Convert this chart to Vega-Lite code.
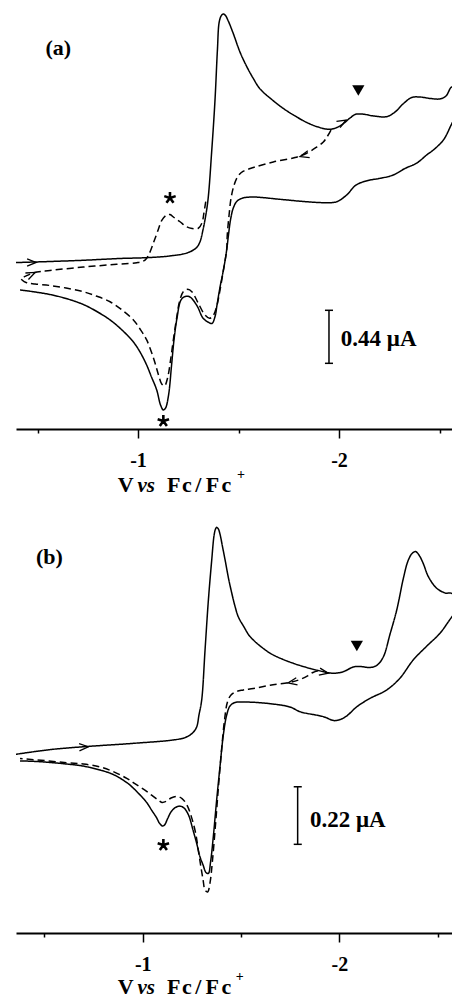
{
"$schema":"https://vega.github.io/schema/vega-lite/v6.json",
"background":"white",
"padding":{"left":16,"top":0,"right":0,"bottom":0},
"bounds":"flush",
"spacing":75,
"config":{"view":{"stroke":null}},
"datasets":{
"a_curves":[
{"s":"solid","k":1,"V":-0.373,"i":1.380},{"s":"solid","k":2,"V":-0.562,"i":1.390},{"s":"solid","k":3,"V":-0.726,"i":1.400},{"s":"solid","k":4,"V":-0.910,"i":1.415},{"s":"solid","k":5,"V":-1.045,"i":1.422},{"s":"solid","k":6,"V":-1.159,"i":1.436},{"s":"solid","k":7,"V":-1.244,"i":1.461},{"s":"solid","k":8,"V":-1.289,"i":1.502},{"s":"solid","k":9,"V":-1.308,"i":1.552},{"s":"solid","k":10,"V":-1.323,"i":1.651},{"s":"solid","k":11,"V":-1.333,"i":1.734},{"s":"solid","k":12,"V":-1.348,"i":1.900},{"s":"solid","k":13,"V":-1.367,"i":2.315},{"s":"solid","k":14,"V":-1.383,"i":2.730},{"s":"solid","k":15,"V":-1.395,"i":3.145},{"s":"solid","k":16,"V":-1.404,"i":3.378},{"s":"solid","k":17,"V":-1.415,"i":3.432},{"s":"solid","k":18,"V":-1.424,"i":3.444},{"s":"solid","k":19,"V":-1.435,"i":3.432},{"s":"solid","k":20,"V":-1.449,"i":3.386},{"s":"solid","k":21,"V":-1.473,"i":3.286},{"s":"solid","k":22,"V":-1.507,"i":3.129},{"s":"solid","k":23,"V":-1.541,"i":3.007},{"s":"solid","k":24,"V":-1.572,"i":2.913},{"s":"solid","k":25,"V":-1.607,"i":2.822},{"s":"solid","k":26,"V":-1.662,"i":2.739},{"s":"solid","k":27,"V":-1.723,"i":2.660},{"s":"solid","k":28,"V":-1.781,"i":2.598},{"s":"solid","k":29,"V":-1.839,"i":2.544},{"s":"solid","k":30,"V":-1.896,"i":2.506},{"s":"solid","k":31,"V":-1.955,"i":2.487},{"s":"solid","k":32,"V":-2.005,"i":2.515},{"s":"solid","k":33,"V":-2.055,"i":2.581},{"s":"solid","k":34,"V":-2.080,"i":2.610},{"s":"solid","k":35,"V":-2.114,"i":2.614},{"s":"solid","k":36,"V":-2.171,"i":2.598},{"s":"solid","k":37,"V":-2.237,"i":2.592},{"s":"solid","k":38,"V":-2.279,"i":2.631},{"s":"solid","k":39,"V":-2.318,"i":2.697},{"s":"solid","k":40,"V":-2.362,"i":2.751},{"s":"solid","k":41,"V":-2.403,"i":2.755},{"s":"solid","k":42,"V":-2.453,"i":2.743},{"s":"solid","k":43,"V":-2.502,"i":2.739},{"s":"solid","k":44,"V":-2.532,"i":2.763},{"s":"solid","k":45,"V":-2.562,"i":2.838},{"s":"solid","k":46,"V":-2.612,"i":2.700},{"s":"solid","k":47,"V":-2.562,"i":2.537},{"s":"solid","k":48,"V":-2.519,"i":2.398},{"s":"solid","k":49,"V":-2.469,"i":2.315},{"s":"solid","k":50,"V":-2.436,"i":2.274},{"s":"solid","k":51,"V":-2.387,"i":2.207},{"s":"solid","k":52,"V":-2.328,"i":2.162},{"s":"solid","k":53,"V":-2.270,"i":2.108},{"s":"solid","k":54,"V":-2.204,"i":2.080},{"s":"solid","k":55,"V":-2.144,"i":2.062},{"s":"solid","k":56,"V":-2.085,"i":2.025},{"s":"solid","k":57,"V":-2.038,"i":1.942},{"s":"solid","k":58,"V":-1.989,"i":1.886},{"s":"solid","k":59,"V":-1.939,"i":1.878},{"s":"solid","k":60,"V":-1.839,"i":1.886},{"s":"solid","k":61,"V":-1.706,"i":1.906},{"s":"solid","k":62,"V":-1.574,"i":1.925},{"s":"solid","k":63,"V":-1.522,"i":1.917},{"s":"solid","k":64,"V":-1.493,"i":1.892},{"s":"solid","k":65,"V":-1.474,"i":1.834},{"s":"solid","k":66,"V":-1.460,"i":1.734},{"s":"solid","k":67,"V":-1.450,"i":1.610},{"s":"solid","k":68,"V":-1.441,"i":1.485},{"s":"solid","k":69,"V":-1.425,"i":1.320},{"s":"solid","k":70,"V":-1.408,"i":1.178},{"s":"solid","k":71,"V":-1.393,"i":1.029},{"s":"solid","k":72,"V":-1.383,"i":0.932},{"s":"solid","k":73,"V":-1.368,"i":0.876},{"s":"solid","k":74,"V":-1.348,"i":0.888},{"s":"solid","k":75,"V":-1.323,"i":0.921},{"s":"solid","k":76,"V":-1.294,"i":1.021},{"s":"solid","k":77,"V":-1.259,"i":1.095},{"s":"solid","k":78,"V":-1.236,"i":1.100},{"s":"solid","k":79,"V":-1.214,"i":1.071},{"s":"solid","k":80,"V":-1.194,"i":0.921},{"s":"solid","k":81,"V":-1.179,"i":0.739},{"s":"solid","k":82,"V":-1.167,"i":0.531},{"s":"solid","k":83,"V":-1.152,"i":0.282},{"s":"solid","k":84,"V":-1.137,"i":0.174},{"s":"solid","k":85,"V":-1.126,"i":0.158},{"s":"solid","k":86,"V":-1.112,"i":0.199},{"s":"solid","k":87,"V":-1.093,"i":0.324},{"s":"solid","k":88,"V":-1.065,"i":0.440},{"s":"solid","k":89,"V":-1.043,"i":0.531},{"s":"solid","k":90,"V":-1.010,"i":0.639},{"s":"solid","k":91,"V":-0.977,"i":0.722},{"s":"solid","k":92,"V":-0.920,"i":0.822},{"s":"solid","k":93,"V":-0.861,"i":0.905},{"s":"solid","k":94,"V":-0.791,"i":0.979},{"s":"solid","k":95,"V":-0.728,"i":1.033},{"s":"solid","k":96,"V":-0.642,"i":1.083},{"s":"solid","k":97,"V":-0.562,"i":1.116},{"s":"solid","k":98,"V":-0.488,"i":1.137},{"s":"solid","k":99,"V":-0.413,"i":1.154},
{"s":"dashed","k":1,"V":-1.960,"i":2.481},{"s":"dashed","k":2,"V":-1.940,"i":2.423},{"s":"dashed","k":3,"V":-1.922,"i":2.382},{"s":"dashed","k":4,"V":-1.889,"i":2.340},{"s":"dashed","k":5,"V":-1.839,"i":2.288},{"s":"dashed","k":6,"V":-1.781,"i":2.253},{"s":"dashed","k":7,"V":-1.673,"i":2.216},{"s":"dashed","k":8,"V":-1.574,"i":2.170},{"s":"dashed","k":9,"V":-1.522,"i":2.137},{"s":"dashed","k":10,"V":-1.498,"i":2.100},{"s":"dashed","k":11,"V":-1.478,"i":2.025},{"s":"dashed","k":12,"V":-1.463,"i":1.917},{"s":"dashed","k":13,"V":-1.453,"i":1.776},{"s":"dashed","k":14,"V":-1.444,"i":1.610},{"s":"dashed","k":15,"V":-1.441,"i":1.485},{"s":"dashed","k":16,"V":-1.425,"i":1.320},{"s":"dashed","k":17,"V":-1.408,"i":1.154},{"s":"dashed","k":18,"V":-1.392,"i":1.021},{"s":"dashed","k":19,"V":-1.373,"i":0.938},{"s":"dashed","k":20,"V":-1.356,"i":0.919},{"s":"dashed","k":21,"V":-1.333,"i":0.946},{"s":"dashed","k":22,"V":-1.299,"i":1.046},{"s":"dashed","k":23,"V":-1.269,"i":1.137},{"s":"dashed","k":24,"V":-1.247,"i":1.159},{"s":"dashed","k":25,"V":-1.225,"i":1.139},{"s":"dashed","k":26,"V":-1.206,"i":1.054},{"s":"dashed","k":27,"V":-1.192,"i":0.921},{"s":"dashed","k":28,"V":-1.177,"i":0.755},{"s":"dashed","k":29,"V":-1.162,"i":0.573},{"s":"dashed","k":30,"V":-1.147,"i":0.423},{"s":"dashed","k":31,"V":-1.132,"i":0.357},{"s":"dashed","k":32,"V":-1.118,"i":0.373},{"s":"dashed","k":33,"V":-1.102,"i":0.448},{"s":"dashed","k":34,"V":-1.080,"i":0.573},{"s":"dashed","k":35,"V":-1.043,"i":0.739},{"s":"dashed","k":36,"V":-1.010,"i":0.830},{"s":"dashed","k":37,"V":-0.977,"i":0.905},{"s":"dashed","k":38,"V":-0.920,"i":0.988},{"s":"dashed","k":39,"V":-0.861,"i":1.056},{"s":"dashed","k":40,"V":-0.791,"i":1.104},{"s":"dashed","k":41,"V":-0.728,"i":1.139},{"s":"dashed","k":42,"V":-0.642,"i":1.170},{"s":"dashed","k":43,"V":-0.562,"i":1.191},{"s":"dashed","k":44,"V":-0.488,"i":1.203},{"s":"dashed","k":45,"V":-0.446,"i":1.214},{"s":"dashed","k":46,"V":-0.423,"i":1.237},{"s":"dashed","k":47,"V":-0.418,"i":1.249},{"s":"dashed","k":48,"V":-0.438,"i":1.266},{"s":"dashed","k":49,"V":-0.479,"i":1.295},{"s":"dashed","k":50,"V":-0.562,"i":1.315},{"s":"dashed","k":51,"V":-0.728,"i":1.344},{"s":"dashed","k":52,"V":-0.894,"i":1.367},{"s":"dashed","k":53,"V":-0.994,"i":1.380},{"s":"dashed","k":54,"V":-1.035,"i":1.402},{"s":"dashed","k":55,"V":-1.055,"i":1.452},{"s":"dashed","k":56,"V":-1.076,"i":1.541},{"s":"dashed","k":57,"V":-1.100,"i":1.651},{"s":"dashed","k":58,"V":-1.119,"i":1.734},{"s":"dashed","k":59,"V":-1.143,"i":1.776},{"s":"dashed","k":60,"V":-1.159,"i":1.780},{"s":"dashed","k":61,"V":-1.179,"i":1.755},{"s":"dashed","k":62,"V":-1.209,"i":1.720},{"s":"dashed","k":63,"V":-1.239,"i":1.680},{"s":"dashed","k":64,"V":-1.269,"i":1.664},{"s":"dashed","k":65,"V":-1.300,"i":1.666},{"s":"dashed","k":66,"V":-1.318,"i":1.710},{"s":"dashed","k":67,"V":-1.328,"i":1.793},{"s":"dashed","k":68,"V":-1.338,"i":1.900}
],
"b_curves":[
{"s":"solid","k":1,"V":-0.345,"i":0.682},{"s":"solid","k":2,"V":-0.528,"i":0.701},{"s":"solid","k":3,"V":-0.698,"i":0.712},{"s":"solid","k":4,"V":-0.952,"i":0.725},{"s":"solid","k":5,"V":-1.156,"i":0.738},{"s":"solid","k":6,"V":-1.215,"i":0.747},{"s":"solid","k":7,"V":-1.251,"i":0.763},{"s":"solid","k":8,"V":-1.274,"i":0.787},{"s":"solid","k":9,"V":-1.286,"i":0.833},{"s":"solid","k":10,"V":-1.300,"i":0.891},{"s":"solid","k":11,"V":-1.317,"i":1.082},{"s":"solid","k":12,"V":-1.334,"i":1.273},{"s":"solid","k":13,"V":-1.351,"i":1.426},{"s":"solid","k":14,"V":-1.363,"i":1.521},{"s":"solid","k":15,"V":-1.370,"i":1.544},{"s":"solid","k":16,"V":-1.376,"i":1.551},{"s":"solid","k":17,"V":-1.385,"i":1.544},{"s":"solid","k":18,"V":-1.393,"i":1.525},{"s":"solid","k":19,"V":-1.406,"i":1.476},{"s":"solid","k":20,"V":-1.419,"i":1.426},{"s":"solid","k":21,"V":-1.436,"i":1.357},{"s":"solid","k":22,"V":-1.453,"i":1.299},{"s":"solid","k":23,"V":-1.469,"i":1.250},{"s":"solid","k":24,"V":-1.486,"i":1.209},{"s":"solid","k":25,"V":-1.515,"i":1.170},{"s":"solid","k":26,"V":-1.546,"i":1.133},{"s":"solid","k":27,"V":-1.613,"i":1.088},{"s":"solid","k":28,"V":-1.664,"i":1.063},{"s":"solid","k":29,"V":-1.766,"i":1.031},{"s":"solid","k":30,"V":-1.885,"i":1.005},{"s":"solid","k":31,"V":-1.969,"i":0.993},{"s":"solid","k":32,"V":-2.020,"i":0.999},{"s":"solid","k":33,"V":-2.071,"i":1.017},{"s":"solid","k":34,"V":-2.105,"i":1.019},{"s":"solid","k":35,"V":-2.156,"i":1.015},{"s":"solid","k":36,"V":-2.192,"i":1.024},{"s":"solid","k":37,"V":-2.224,"i":1.056},{"s":"solid","k":38,"V":-2.258,"i":1.143},{"s":"solid","k":39,"V":-2.292,"i":1.235},{"s":"solid","k":40,"V":-2.326,"i":1.357},{"s":"solid","k":41,"V":-2.349,"i":1.422},{"s":"solid","k":42,"V":-2.370,"i":1.451},{"s":"solid","k":43,"V":-2.388,"i":1.458},{"s":"solid","k":44,"V":-2.405,"i":1.445},{"s":"solid","k":45,"V":-2.426,"i":1.414},{"s":"solid","k":46,"V":-2.453,"i":1.362},{"s":"solid","k":47,"V":-2.495,"i":1.318},{"s":"solid","k":48,"V":-2.538,"i":1.300},{"s":"solid","k":49,"V":-2.573,"i":1.298},{"s":"solid","k":50,"V":-2.624,"i":1.254},{"s":"solid","k":51,"V":-2.573,"i":1.209},{"s":"solid","k":52,"V":-2.512,"i":1.146},{"s":"solid","k":53,"V":-2.445,"i":1.097},{"s":"solid","k":54,"V":-2.376,"i":1.044},{"s":"solid","k":55,"V":-2.309,"i":0.975},{"s":"solid","k":56,"V":-2.241,"i":0.929},{"s":"solid","k":57,"V":-2.156,"i":0.897},{"s":"solid","k":58,"V":-2.089,"i":0.865},{"s":"solid","k":59,"V":-2.038,"i":0.830},{"s":"solid","k":60,"V":-2.004,"i":0.816},{"s":"solid","k":61,"V":-1.973,"i":0.812},{"s":"solid","k":62,"V":-1.919,"i":0.827},{"s":"solid","k":63,"V":-1.800,"i":0.846},{"s":"solid","k":64,"V":-1.749,"i":0.864},{"s":"solid","k":65,"V":-1.631,"i":0.878},{"s":"solid","k":66,"V":-1.520,"i":0.883},{"s":"solid","k":67,"V":-1.469,"i":0.881},{"s":"solid","k":68,"V":-1.444,"i":0.868},{"s":"solid","k":69,"V":-1.427,"i":0.833},{"s":"solid","k":70,"V":-1.410,"i":0.757},{"s":"solid","k":71,"V":-1.393,"i":0.636},{"s":"solid","k":72,"V":-1.376,"i":0.508},{"s":"solid","k":73,"V":-1.359,"i":0.368},{"s":"solid","k":74,"V":-1.345,"i":0.271},{"s":"solid","k":75,"V":-1.334,"i":0.228},{"s":"solid","k":76,"V":-1.322,"i":0.231},{"s":"solid","k":77,"V":-1.307,"i":0.260},{"s":"solid","k":78,"V":-1.291,"i":0.292},{"s":"solid","k":79,"V":-1.274,"i":0.344},{"s":"solid","k":80,"V":-1.257,"i":0.390},{"s":"solid","k":81,"V":-1.233,"i":0.451},{"s":"solid","k":82,"V":-1.210,"i":0.478},{"s":"solid","k":83,"V":-1.190,"i":0.485},{"s":"solid","k":84,"V":-1.167,"i":0.480},{"s":"solid","k":85,"V":-1.144,"i":0.463},{"s":"solid","k":86,"V":-1.126,"i":0.436},{"s":"solid","k":87,"V":-1.111,"i":0.413},{"s":"solid","k":88,"V":-1.101,"i":0.409},{"s":"solid","k":89,"V":-1.085,"i":0.420},{"s":"solid","k":90,"V":-1.071,"i":0.440},{"s":"solid","k":91,"V":-1.045,"i":0.470},{"s":"solid","k":92,"V":-1.020,"i":0.499},{"s":"solid","k":93,"V":-0.986,"i":0.528},{"s":"solid","k":94,"V":-0.952,"i":0.554},{"s":"solid","k":95,"V":-0.919,"i":0.575},{"s":"solid","k":96,"V":-0.850,"i":0.606},{"s":"solid","k":97,"V":-0.783,"i":0.623},{"s":"solid","k":98,"V":-0.698,"i":0.638},{"s":"solid","k":99,"V":-0.613,"i":0.646},{"s":"solid","k":100,"V":-0.528,"i":0.652},{"s":"solid","k":101,"V":-0.452,"i":0.656},{"s":"solid","k":102,"V":-0.376,"i":0.658},
{"s":"dashed","k":1,"V":-1.892,"i":1.002},{"s":"dashed","k":2,"V":-1.866,"i":0.996},{"s":"dashed","k":3,"V":-1.841,"i":0.984},{"s":"dashed","k":4,"V":-1.800,"i":0.969},{"s":"dashed","k":5,"V":-1.749,"i":0.958},{"s":"dashed","k":6,"V":-1.648,"i":0.947},{"s":"dashed","k":7,"V":-1.563,"i":0.935},{"s":"dashed","k":8,"V":-1.512,"i":0.929},{"s":"dashed","k":9,"V":-1.475,"i":0.923},{"s":"dashed","k":10,"V":-1.449,"i":0.910},{"s":"dashed","k":11,"V":-1.431,"i":0.883},{"s":"dashed","k":12,"V":-1.416,"i":0.814},{"s":"dashed","k":13,"V":-1.401,"i":0.700},{"s":"dashed","k":14,"V":-1.386,"i":0.566},{"s":"dashed","k":15,"V":-1.370,"i":0.413},{"s":"dashed","k":16,"V":-1.355,"i":0.279},{"s":"dashed","k":17,"V":-1.342,"i":0.191},{"s":"dashed","k":18,"V":-1.330,"i":0.157},{"s":"dashed","k":19,"V":-1.317,"i":0.164},{"s":"dashed","k":20,"V":-1.307,"i":0.203},{"s":"dashed","k":21,"V":-1.297,"i":0.248},{"s":"dashed","k":22,"V":-1.284,"i":0.310},{"s":"dashed","k":23,"V":-1.269,"i":0.382},{"s":"dashed","k":24,"V":-1.248,"i":0.443},{"s":"dashed","k":25,"V":-1.225,"i":0.489},{"s":"dashed","k":26,"V":-1.200,"i":0.514},{"s":"dashed","k":27,"V":-1.174,"i":0.522},{"s":"dashed","k":28,"V":-1.144,"i":0.516},{"s":"dashed","k":29,"V":-1.119,"i":0.503},{"s":"dashed","k":30,"V":-1.098,"i":0.499},{"s":"dashed","k":31,"V":-1.079,"i":0.508},{"s":"dashed","k":32,"V":-1.047,"i":0.526},{"s":"dashed","k":33,"V":-1.020,"i":0.541},{"s":"dashed","k":34,"V":-0.966,"i":0.568},{"s":"dashed","k":35,"V":-0.919,"i":0.591},{"s":"dashed","k":36,"V":-0.850,"i":0.617},{"s":"dashed","k":37,"V":-0.783,"i":0.635},{"s":"dashed","k":38,"V":-0.698,"i":0.646},{"s":"dashed","k":39,"V":-0.613,"i":0.651},{"s":"dashed","k":40,"V":-0.503,"i":0.659},{"s":"dashed","k":41,"V":-0.376,"i":0.667}
],
"a_arrows":[{"id":"a1","V":-0.493,"i":1.382},{"id":"a2","V":-0.488,"i":1.299},{"id":"a3","V":-1.806,"i":2.261},{"id":"a4","V":-2.035,"i":2.564}],
"b_arrows":[{"id":"b1","V":-0.723,"i":0.712},{"id":"b2","V":-1.739,"i":0.956},{"id":"b3","V":-1.944,"i":0.993}],
"a_stars":[{"V":-1.159,"i":1.917},{"V":-1.126,"i":0.066}],
"b_stars":[{"V":-1.105,"i":0.336}],
"a_tri":[{"V":-2.096,"i":2.809}],
"b_tri":[{"V":-2.089,"i":1.097}],
"a_bar":[{"V":-1.950,"i":0.545,"i2":0.985}],
"a_caps":[{"V":-1.930,"V2":-1.970,"i":0.545},{"V":-1.930,"V2":-1.970,"i":0.985}],
"b_bar":[{"V":-1.788,"i":0.339,"i2":0.559}],
"b_caps":[{"V":-1.768,"V2":-1.809,"i":0.339},{"V":-1.768,"V2":-1.809,"i":0.559}],
"a_title":[{"V":-0.939,"i":-0.520,"t":"V"},{"V":-1.178,"i":-0.520,"t":"F"},{"V":-1.243,"i":-0.520,"t":"c"},{"V":-1.300,"i":-0.520,"t":"/"},{"V":-1.370,"i":-0.520,"t":"F"},{"V":-1.440,"i":-0.520,"t":"c"}],
"b_title":[{"V":-0.914,"i":-0.233,"t":"V"},{"V":-1.158,"i":-0.233,"t":"F"},{"V":-1.224,"i":-0.233,"t":"c"},{"V":-1.283,"i":-0.233,"t":"/"},{"V":-1.354,"i":-0.233,"t":"F"},{"V":-1.425,"i":-0.233,"t":"c"}]
},
"vconcat":[
{
"width":436,"height":429,
"encoding":{
"x":{"field":"V","type":"quantitative","scale":{"domain":[-2.562,-0.393],"reverse":true,"nice":false,"zero":false},
"axis":{"title":null,"values":[-0.5,-1,-1.5,-2,-2.5],"labelExpr":"datum.value % 1 === 0 ? toString(datum.value) : ''","tickSize":{"condition":{"test":"datum.value % 1 === 0","value":9},"value":4},"tickColor":"black","tickWidth":1.5,"domainColor":"black","domainWidth":1.8,"labelColor":"black","labelFont":"Liberation Serif","labelFontWeight":"bold","labelFontSize":20,"labelBaseline":"alphabetic","labelPadding":28,"labelFlush":false,"labelOverlap":false,"grid":false}},
"y":{"field":"i","type":"quantitative","scale":{"domain":[0,3.56],"nice":false,"zero":false},"axis":null}
},
"layer":[
{"data":{"name":"a_curves"},"mark":{"type":"line","clip":true,"color":"black","strokeWidth":1.5,"interpolate":"catmull-rom"},
 "encoding":{"order":{"field":"k","type":"quantitative"},"strokeDash":{"field":"s","type":"nominal","scale":{"domain":["solid","dashed"],"range":[[1,0],[7,4]]},"legend":null}}},
{"data":{"name":"a_arrows"},"transform":[{"filter":"datum.id === 'a1'"}],"mark":{"type":"point","shape":"M-1,-0.4L0,0L-1,0.4","size":324,"filled":false,"stroke":"black","strokeWidth":1.3,"angle":0,"opacity":1}},
{"data":{"name":"a_arrows"},"transform":[{"filter":"datum.id === 'a2'"}],"mark":{"type":"point","shape":"M-1,-0.4L0,0L-1,0.4","size":324,"filled":false,"stroke":"black","strokeWidth":1.3,"angle":-25,"opacity":1}},
{"data":{"name":"a_arrows"},"transform":[{"filter":"datum.id === 'a3'"}],"mark":{"type":"point","shape":"M-1,-0.4L0,0L-1,0.4","size":324,"filled":false,"stroke":"black","strokeWidth":1.3,"angle":165,"opacity":1}},
{"data":{"name":"a_arrows"},"transform":[{"filter":"datum.id === 'a4'"}],"mark":{"type":"point","shape":"M-1,-0.4L0,0L-1,0.4","size":324,"filled":false,"stroke":"black","strokeWidth":1.3,"angle":-30,"opacity":1}},
{"data":{"name":"a_stars"},"mark":{"type":"point","shape":"M0,-1L0,0M0.95,-0.31L0,0M0.59,0.81L0,0M-0.59,0.81L0,0M-0.95,-0.31L0,0","size":144,"filled":false,"stroke":"black","strokeWidth":2.6,"opacity":1}},
{"data":{"name":"a_tri"},"mark":{"type":"point","shape":"triangle-down","size":150,"filled":true,"color":"black","opacity":1}},
{"data":{"name":"a_bar"},"mark":{"type":"rule","color":"black","strokeWidth":1.5},"encoding":{"y2":{"field":"i2"}}},
{"data":{"name":"a_caps"},"mark":{"type":"rule","color":"black","strokeWidth":1.5},"encoding":{"x2":{"field":"V2"}}},
{"data":{"values":[{"V":-0.603,"i":3.162,"t":"(a)"}]},"mark":{"type":"text","font":"Liberation Serif","fontWeight":"bold","fontSize":22,"align":"center","baseline":"middle","color":"black"},"encoding":{"text":{"field":"t"}}},
{"data":{"values":[{"V":-2.009,"i":0.749,"t":"0.44 μA"}]},"mark":{"type":"text","font":"Liberation Serif","fontWeight":"bold","fontSize":23,"align":"left","baseline":"middle","color":"black"},"encoding":{"text":{"field":"t"}}},
{"data":{"name":"a_title"},"mark":{"type":"text","font":"Liberation Serif","fontWeight":"bold","fontSize":22,"align":"center","baseline":"alphabetic","color":"black"},"encoding":{"text":{"field":"t"}}},
{"data":{"values":[{"V":-1.041,"i":-0.520,"t":"vs"}]},"mark":{"type":"text","font":"Liberation Serif","fontWeight":"bold","fontStyle":"italic","fontSize":21,"align":"center","baseline":"alphabetic","color":"black"},"encoding":{"text":{"field":"t"}}},
{"data":{"values":[{"V":-1.512,"i":-0.417,"t":"+"}]},"mark":{"type":"text","font":"Liberation Serif","fontWeight":"bold","fontSize":14,"align":"center","baseline":"alphabetic","color":"black"},"encoding":{"text":{"field":"t"}}}
]
},
{
"width":436,"height":429,
"encoding":{
"x":{"field":"V","type":"quantitative","scale":{"domain":[-2.573,-0.3555],"reverse":true,"nice":false,"zero":false},
"axis":{"title":null,"values":[-0.5,-1,-1.5,-2,-2.5],"labelExpr":"datum.value % 1 === 0 ? toString(datum.value) : ''","tickSize":{"condition":{"test":"datum.value % 1 === 0","value":9},"value":4},"tickColor":"black","tickWidth":1.5,"domainColor":"black","domainWidth":1.8,"labelColor":"black","labelFont":"Liberation Serif","labelFontWeight":"bold","labelFontSize":20,"labelBaseline":"alphabetic","labelPadding":28,"labelFlush":false,"labelOverlap":false,"grid":false}},
"y":{"field":"i","type":"quantitative","scale":{"domain":[0,1.64],"nice":false,"zero":false},"axis":null}
},
"layer":[
{"data":{"name":"b_curves"},"mark":{"type":"line","clip":true,"color":"black","strokeWidth":1.5,"interpolate":"catmull-rom"},
 "encoding":{"order":{"field":"k","type":"quantitative"},"strokeDash":{"field":"s","type":"nominal","scale":{"domain":["solid","dashed"],"range":[[1,0],[7,4]]},"legend":null}}},
{"data":{"name":"b_arrows"},"transform":[{"filter":"datum.id === 'b1'"}],"mark":{"type":"point","shape":"M-1,-0.4L0,0L-1,0.4","size":324,"filled":false,"stroke":"black","strokeWidth":1.3,"angle":-3,"opacity":1}},
{"data":{"name":"b_arrows"},"transform":[{"filter":"datum.id === 'b2'"}],"mark":{"type":"point","shape":"M-1,-0.4L0,0L-1,0.4","size":324,"filled":false,"stroke":"black","strokeWidth":1.3,"angle":170,"opacity":1}},
{"data":{"name":"b_arrows"},"transform":[{"filter":"datum.id === 'b3'"}],"mark":{"type":"point","shape":"M-1,-0.4L0,0L-1,0.4","size":324,"filled":false,"stroke":"black","strokeWidth":1.3,"angle":10,"opacity":1}},
{"data":{"name":"b_stars"},"mark":{"type":"point","shape":"M0,-1L0,0M0.95,-0.31L0,0M0.59,0.81L0,0M-0.59,0.81L0,0M-0.95,-0.31L0,0","size":144,"filled":false,"stroke":"black","strokeWidth":2.6,"opacity":1}},
{"data":{"name":"b_tri"},"mark":{"type":"point","shape":"triangle-down","size":150,"filled":true,"color":"black","opacity":1}},
{"data":{"name":"b_bar"},"mark":{"type":"rule","color":"black","strokeWidth":1.5},"encoding":{"y2":{"field":"i2"}}},
{"data":{"name":"b_caps"},"mark":{"type":"rule","color":"black","strokeWidth":1.5},"encoding":{"x2":{"field":"V2"}}},
{"data":{"values":[{"V":-0.525,"i":1.438,"t":"(b)"}]},"mark":{"type":"text","font":"Liberation Serif","fontWeight":"bold","fontSize":22,"align":"center","baseline":"middle","color":"black"},"encoding":{"text":{"field":"t"}}},
{"data":{"values":[{"V":-1.851,"i":0.432,"t":"0.22 μA"}]},"mark":{"type":"text","font":"Liberation Serif","fontWeight":"bold","fontSize":23,"align":"left","baseline":"middle","color":"black"},"encoding":{"text":{"field":"t"}}},
{"data":{"name":"b_title"},"mark":{"type":"text","font":"Liberation Serif","fontWeight":"bold","fontSize":22,"align":"center","baseline":"alphabetic","color":"black"},"encoding":{"text":{"field":"t"}}},
{"data":{"values":[{"V":-1.018,"i":-0.233,"t":"vs"}]},"mark":{"type":"text","font":"Liberation Serif","fontWeight":"bold","fontStyle":"italic","fontSize":21,"align":"center","baseline":"alphabetic","color":"black"},"encoding":{"text":{"field":"t"}}},
{"data":{"values":[{"V":-1.493,"i":-0.185,"t":"+"}]},"mark":{"type":"text","font":"Liberation Serif","fontWeight":"bold","fontSize":14,"align":"center","baseline":"alphabetic","color":"black"},"encoding":{"text":{"field":"t"}}}
]
}
]
}
